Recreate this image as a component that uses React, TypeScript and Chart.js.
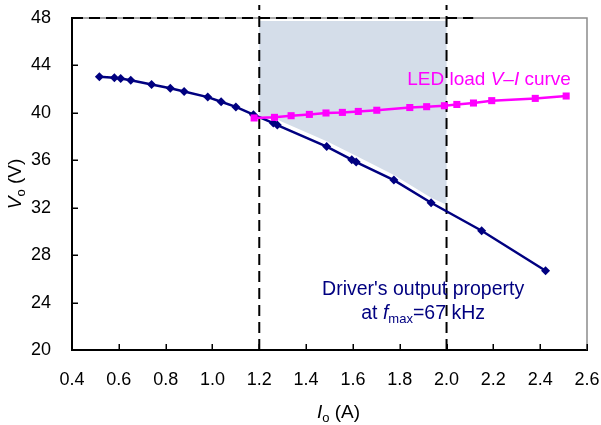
import React, { useEffect, useRef } from "react";
import { Chart, registerables } from "chart.js";

Chart.register(...registerables);

// Driver's output property at fmax = 67 kHz
const driverCurrent = [0.517, 0.581, 0.608, 0.651, 0.74, 0.82, 0.879, 0.98, 1.037, 1.1, 1.175, 1.26, 1.277, 1.488, 1.595, 1.614, 1.775, 1.934, 2.15, 2.423];
const driverVoltage = [43.05, 42.97, 42.9, 42.75, 42.4, 42.07, 41.8, 41.33, 40.94, 40.5, 39.85, 39.14, 38.97, 37.16, 36.05, 35.85, 34.33, 32.42, 30.06, 26.68];

// LED load V-I curve
const ledCurrent = [1.178, 1.265, 1.336, 1.414, 1.485, 1.555, 1.623, 1.702, 1.843, 1.915, 1.991, 2.044, 2.115, 2.193, 2.379, 2.511];
const ledVoltage = [39.57, 39.62, 39.76, 39.87, 39.99, 40.04, 40.12, 40.22, 40.45, 40.52, 40.6, 40.71, 40.83, 41.03, 41.22, 41.42];

// Shaded operating region
const regionCurrent = [1.2, 2.0, 2.0, 1.934, 1.775, 1.6, 1.488, 1.28, 1.2];
const regionVoltage = [47.75, 47.75, 32.25, 32.85, 34.75, 36.5, 37.6, 39.4, 39.6];

// Dashed boundary lines
const boundaryCurrents = [1.2, 2.0];
const boundaryVoltageRange = [20, 49.1];
const maxVoltageLine = 48;
const maxVoltageLineCurrentRange = [0.4, 2.114];

// Axes
const xTickValues = [0.4, 0.6, 0.8, 1.0, 1.2, 1.4, 1.6, 1.8, 2.0, 2.2, 2.4, 2.6];
const yTickValues = [20, 24, 28, 32, 36, 40, 44, 48];

const FAMILY = '"Liberation Sans", Arial, Helvetica, sans-serif';
const NAVY = "#000080";
const MAGENTA = "#ff00ff";

type Part = { t: string; it?: boolean; sub?: boolean };

function drawRich(
  ctx: CanvasRenderingContext2D,
  parts: Part[],
  x: number,
  baseline: number,
  size: number,
  color: string,
  align: "left" | "center"
) {
  const fontOf = (p: Part) =>
    `${p.it ? "italic " : ""}${p.sub ? Math.round(size * 0.68) : size}px ${FAMILY}`;
  const widths = parts.map((p) => {
    ctx.font = fontOf(p);
    return ctx.measureText(p.t).width;
  });
  const total = widths.reduce((a, b) => a + b, 0);
  let cx = align === "center" ? x - total / 2 : x;
  ctx.fillStyle = color;
  ctx.textAlign = "left";
  ctx.textBaseline = "alphabetic";
  parts.forEach((p, i) => {
    ctx.font = fontOf(p);
    ctx.fillText(p.t, cx, p.sub ? baseline + size * 0.22 : baseline);
    cx += widths[i];
  });
}

const decorPlugin = {
  id: "decor",
  beforeDatasetsDraw(chart: any) {
    const { ctx, chartArea, scales } = chart;
    const { left, right, top, bottom } = chartArea;
    const x = scales.x;
    const y = scales.y;
    ctx.save();
    // shaded region
    ctx.beginPath();
    regionCurrent.forEach((c, i) => {
      const px = x.getPixelForValue(c);
      const py = y.getPixelForValue(regionVoltage[i]);
      if (i === 0) ctx.moveTo(px, py);
      else ctx.lineTo(px, py);
    });
    ctx.closePath();
    ctx.fillStyle = "rgb(212,221,233)";
    ctx.fill();
    // grey frame top / right
    ctx.strokeStyle = "#8c8c8c";
    ctx.lineWidth = 1.5;
    ctx.beginPath();
    ctx.moveTo(left, top);
    ctx.lineTo(right, top);
    ctx.lineTo(right, bottom);
    ctx.stroke();
    ctx.restore();
  },
  afterDraw(chart: any) {
    const { ctx, chartArea, scales } = chart;
    const { left, right, top, bottom } = chartArea;
    const x = scales.x;
    const y = scales.y;
    ctx.save();
    // inward tick marks
    ctx.strokeStyle = "#000";
    ctx.lineWidth = 1.5;
    ctx.beginPath();
    xTickValues.forEach((v) => {
      const px = Math.round(x.getPixelForValue(v)) + 0.25;
      ctx.moveTo(px, bottom);
      ctx.lineTo(px, bottom - 6);
    });
    yTickValues.forEach((v) => {
      const py = Math.round(y.getPixelForValue(v)) + 0.25;
      ctx.moveTo(left, py);
      ctx.lineTo(left + 6, py);
    });
    ctx.stroke();

    // axis titles
    drawRich(
      ctx,
      [{ t: "I", it: true }, { t: "o", sub: true }, { t: " (A)" }],
      (left + right) / 2 + 9,
      418,
      19,
      "#000",
      "center"
    );
    ctx.save();
    ctx.translate(21, (top + bottom) / 2);
    ctx.rotate(-Math.PI / 2);
    drawRich(
      ctx,
      [{ t: "V", it: true }, { t: "o", sub: true }, { t: " (V)" }],
      0,
      0,
      19,
      "#000",
      "center"
    );
    ctx.restore();

    // annotations
    drawRich(
      ctx,
      [{ t: "LED load " }, { t: "V–I", it: true }, { t: " curve" }],
      x.getPixelForValue(1.832),
      y.getPixelForValue(42.97) + 7,
      19,
      MAGENTA,
      "left"
    );
    drawRich(
      ctx,
      [{ t: "Driver's output property" }],
      x.getPixelForValue(1.9),
      y.getPixelForValue(25.22) + 7,
      19.5,
      NAVY,
      "center"
    );
    drawRich(
      ctx,
      [{ t: "at " }, { t: "f", it: true }, { t: "max", sub: true }, { t: "=67 kHz" }],
      x.getPixelForValue(1.9),
      y.getPixelForValue(23.2) + 7,
      19.5,
      NAVY,
      "center"
    );
    ctx.restore();
  },
};

const zeroPadding = (scale: any) => {
  scale.paddingTop = 0;
  scale.paddingBottom = 0;
  scale.paddingLeft = 0;
  scale.paddingRight = 0;
};

export default function App() {
  const canvasRef = useRef<HTMLCanvasElement | null>(null);

  useEffect(() => {
    const canvas = canvasRef.current;
    if (!canvas) return;

    const dashed = (pts: { x: number; y: number }[]) => ({
      data: pts,
      showLine: true,
      borderColor: "#000",
      borderWidth: 2,
      borderDash: [11, 6],
      pointRadius: 0,
      fill: false,
      clip: false as any,
    });

    const chart = new Chart(canvas, {
      type: "scatter",
      data: {
        datasets: [
          {
            data: ledCurrent.map((c, i) => ({ x: c, y: ledVoltage[i] })),
            showLine: true,
            borderColor: MAGENTA,
            backgroundColor: MAGENTA,
            borderWidth: 2.5,
            pointStyle: "rect",
            pointRadius: 5,
            pointBorderWidth: 0,
          },
          {
            data: driverCurrent.map((c, i) => ({ x: c, y: driverVoltage[i] })),
            showLine: true,
            borderColor: NAVY,
            backgroundColor: NAVY,
            borderWidth: 2.5,
            pointStyle: "rectRot",
            pointRadius: 4.5,
            pointBorderWidth: 0,
          },
          ...boundaryCurrents.map((c) =>
            dashed(boundaryVoltageRange.map((v) => ({ x: c, y: v })))
          ),
          dashed(maxVoltageLineCurrentRange.map((c) => ({ x: c, y: maxVoltageLine }))),
        ] as any,
      },
      options: {
        responsive: false,
        animation: false,
        events: [],
        layout: { padding: { left: 0, top: 18, right: 14, bottom: 0 } },
        plugins: {
          legend: { display: false },
          tooltip: { enabled: false },
        },
        scales: {
          x: {
            type: "linear",
            min: 0.4,
            max: 2.6,
            afterBuildTicks: (scale: any) => {
              scale.ticks = xTickValues.map((v) => ({ value: v }));
            },
            afterFit: (scale: any) => {
              scale.height = 75;
              zeroPadding(scale);
            },
            grid: { display: false, drawTicks: false },
            border: { display: true, color: "#000", width: 2 },
            ticks: {
              padding: 19,
              color: "#000",
              font: { family: FAMILY, size: 18 },
              maxRotation: 0,
              autoSkip: false,
              callback: (v: any) => Number(v).toFixed(1),
            },
          },
          y: {
            type: "linear",
            min: 20,
            max: 48,
            afterBuildTicks: (scale: any) => {
              scale.ticks = yTickValues.map((v) => ({ value: v }));
            },
            afterFit: (scale: any) => {
              scale.width = 72;
              zeroPadding(scale);
            },
            grid: { display: false, drawTicks: false },
            border: { display: true, color: "#000", width: 2 },
            ticks: {
              padding: 21,
              color: "#000",
              font: { family: FAMILY, size: 18 },
              autoSkip: false,
              callback: (v: any) => String(v),
            },
          },
        },
      } as any,
      plugins: [decorPlugin],
    });

    return () => chart.destroy();
  }, []);

  return (
    <div style={{ position: "absolute", left: 0, top: 0, width: 601, height: 425, background: "#fff" }}>
      <canvas ref={canvasRef} width={601} height={425} style={{ display: "block" }} />
    </div>
  );
}
